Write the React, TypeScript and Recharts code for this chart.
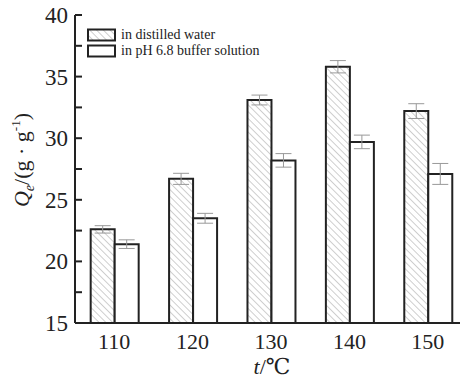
import React from 'react';
import { BarChart, Bar, XAxis, YAxis, ErrorBar } from 'recharts';

const categories = ['110', '120', '130', '140', '150'];
const distilled = [22.6, 26.7, 33.1, 35.8, 32.2];
const distilledErr = [0.3, 0.45, 0.4, 0.5, 0.6];
const buffer = [21.4, 23.5, 28.2, 29.7, 27.1];
const bufferErr = [0.35, 0.4, 0.55, 0.55, 0.85];
const yTicks = [15, 17.5, 20, 22.5, 25, 27.5, 30, 32.5, 35, 37.5, 40];

const legendItems = ['in distilled water', 'in pH 6.8 buffer solution'];

const data = categories.map((t, i) => ({
  t,
  distilled: distilled[i],
  distilledErr: distilledErr[i],
  buffer: buffer[i],
  bufferErr: bufferErr[i],
}));

const FONT = "'Liberation Serif', Tinos, 'Times New Roman', Times, 'DejaVu Serif', serif";
const INK = '#222';

function YTick(props: any) {
  const { x, y, payload } = props;
  const axisX = x + 7;
  const v = payload.value;
  return (
    <g>
      <line x1={axisX} x2={axisX + 7} y1={y} y2={y} stroke={INK} strokeWidth={2} />
      {v % 5 === 0 && (
        <text x={x} y={y} dy="0.35em" textAnchor="end" fontSize={23} fill={INK} style={{ fontFamily: FONT }}>
          {v}
        </text>
      )}
    </g>
  );
}

function YLabel() {
  return (
    <text
      transform="rotate(-90, 29, 160)"
      x={29}
      y={160}
      textAnchor="middle"
      fontSize={22}
      fill={INK}
      style={{ fontFamily: FONT }}
    >
      <tspan fontStyle="italic">Q</tspan>
      <tspan fontStyle="italic" fontSize={14} dy={5}>e</tspan>
      <tspan dy={-5}>/(g · g</tspan>
      <tspan fontSize={13} dy={-9}>-1</tspan>
      <tspan dy={9}>)</tspan>
    </text>
  );
}

function XLabel() {
  return (
    <text x={272} y={374} textAnchor="middle" fontSize={22} fill={INK} style={{ fontFamily: FONT }}>
      <tspan fontStyle="italic">t</tspan>
      <tspan>/℃</tspan>
    </text>
  );
}

function Hatch({ id }: { id: string }) {
  return (
    <pattern id={id} patternUnits="userSpaceOnUse" width={4.8} height={4.8} patternTransform="rotate(-45)">
      <rect width={4.8} height={4.8} fill="#fff" />
      <line x1={0} y1={0} x2={0} y2={4.8} stroke="#b0b0b0" strokeWidth={1.2} />
    </pattern>
  );
}

export default function App() {
  return (
    <div style={{ position: 'absolute', left: 0, top: 0, width: 460, height: 378, overflow: 'hidden', background: '#fff', fontFamily: FONT }}>
      <BarChart
        width={467}
        height={378}
        data={data}
        margin={{ top: 15, right: 0, left: 0, bottom: 0 }}
        barCategoryGap="20%"
        barGap={0}
        style={{ fontFamily: FONT }}
      >
        <defs>
          <Hatch id="hatch" />
        </defs>
        <XAxis
          dataKey="t"
          height={55}
          tickLine={false}
          tickSize={0}
          tickMargin={10}
          axisLine={{ stroke: INK, strokeWidth: 2 }}
          tick={{ fill: INK, fontSize: 22, style: { fontFamily: FONT } }}
          label={{ content: <XLabel /> }}
        />
        <YAxis
          domain={[15, 40]}
          ticks={yTicks}
          interval={0}
          width={75}
          tickLine={false}
          tickSize={0}
          tickMargin={7}
          allowDataOverflow
          axisLine={{ stroke: INK, strokeWidth: 2 }}
          tick={<YTick />}
          label={{ content: <YLabel /> }}
        />
        <Bar dataKey="distilled" fill="url(#hatch)" stroke={INK} strokeWidth={2} isAnimationActive={false}>
          <ErrorBar dataKey="distilledErr" width={8} stroke="#999" strokeWidth={1} />
        </Bar>
        <Bar dataKey="buffer" fill="#fff" stroke={INK} strokeWidth={2} isAnimationActive={false}>
          <ErrorBar dataKey="bufferErr" width={8} stroke="#999" strokeWidth={1} />
        </Bar>
      </BarChart>
      <div style={{ position: 'absolute', left: 87, top: 27, fontSize: 14, lineHeight: '16px', color: INK }}>
        {legendItems.map((name, i) => (
          <div key={name} style={{ display: 'flex', alignItems: 'center', height: 16 }}>
            <svg width={30} height={14} style={{ marginRight: 4 }}>
              <defs>
                <Hatch id={'lg' + i} />
              </defs>
              <rect x={1} y={1.5} width={27} height={11} fill={i === 0 ? 'url(#lg0)' : '#fff'} stroke={INK} strokeWidth={2} />
            </svg>
            <span>{name}</span>
          </div>
        ))}
      </div>
    </div>
  );
}
